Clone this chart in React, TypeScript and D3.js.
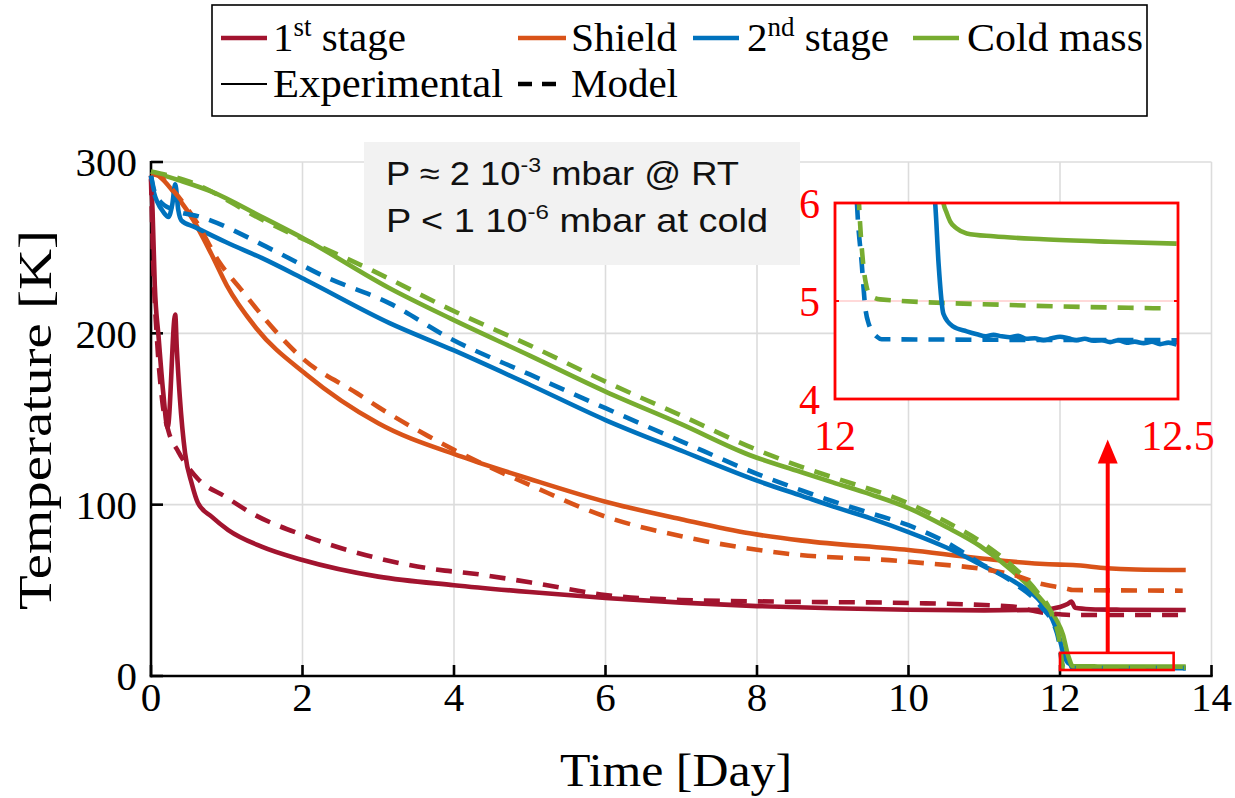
import React from 'react';
import * as d3 from 'd3';

type P = [number, number];

const xTicks = [0, 2, 4, 6, 8, 10, 12, 14];
const yTicks = [0, 100, 200, 300];
const insetYTicks = [4, 5, 6];
const insetXTicks = [12, 12.5];

const stage1Exp: P[] = [
  [0, 292], [0.02, 272], [0.05, 228], [0.1, 198], [0.16, 166], [0.22, 145], [0.32, 211], [0.34, 192],
  [0.38, 163], [0.45, 130], [0.54, 112], [0.62, 101], [0.8, 93], [1.02, 85.2], [1.46, 75.5], [2, 67.7],
  [3, 58], [4, 53], [5, 49], [6, 45.5], [7, 42.8], [8, 40.8], [9, 39.5], [10, 38.7], [11, 38.3],
  [11.74, 38.6], [12.0, 40.3], [12.1, 42], [12.15, 43.4], [12.2, 39.8], [12.4, 39], [12.8, 38.7], [13.66, 38.5],
];
const stage1Mod: P[] = [
  [0, 290], [0.03, 240], [0.08, 196], [0.15, 160], [0.23, 143], [0.36, 131], [0.62, 115], [0.98, 104.7],
  [1.33, 95], [2, 82.3], [3, 68.7], [3.88, 61.5], [4.15, 60.3], [5, 54.7], [6, 47.3], [7, 44.4], [8.3, 43.4],
  [10, 42.6], [11.38, 40.5], [11.74, 37.2], [12.0, 36], [12.17, 35.6], [13.66, 35.6],
];
const shieldExp: P[] = [
  [0, 293], [0.08, 292.5], [0.15, 290], [0.34, 280], [0.56, 266], [0.8, 246], [1.0, 228], [1.39, 203],
  [2.05, 176], [3, 147.5], [4.1, 128], [5, 115], [6, 101.7], [7, 91.5], [7.9, 83.3], [8.6, 79], [10, 73.5],
  [10.94, 68.7], [11.73, 65.5], [12.0, 65], [12.17, 64.8], [12.62, 62.9], [13.0, 62.2], [13.66, 61.9],
];
const shieldMod: P[] = [
  [0, 293], [0.1, 292], [0.3, 283], [0.6, 265], [0.91, 241], [1.2, 225], [1.53, 207], [2.01, 185],
  [2.72, 165], [3.0, 157], [3.66, 140], [4.0, 132], [5.05, 110.5], [6, 93], [7.03, 81.3], [8.35, 71.6],
  [10, 66.7], [11.38, 59], [11.73, 54], [12.09, 51], [12.17, 50.2], [13.62, 49.8],
];
const stage2Exp: P[] = [
  [0, 292], [0.04, 282], [0.08, 277], [0.16, 271], [0.23, 268], [0.28, 275], [0.32, 287], [0.36, 272],
  [0.4, 266], [0.58, 262], [1.0, 253], [1.46, 244], [2.05, 231], [3.15, 206], [4, 190], [5, 170], [6, 149.4],
  [7, 131.5], [8, 114], [8.6, 105], [9, 99], [9.5, 92], [10, 84], [10.5, 75], [11, 64], [11.4, 55],
  [11.75, 43], [11.9, 33], [12.0, 21], [12.05, 12], [12.1, 8], [12.146, 6.0], [12.151, 5.38], [12.158, 4.87],
  [12.172, 4.74], [12.192, 4.69], [12.207, 4.66], [12.22, 4.64], [12.231, 4.655], [12.243, 4.64],
  [12.255, 4.63], [12.267, 4.645], [12.279, 4.615], [12.291, 4.62], [12.304, 4.6], [12.316, 4.62],
  [12.328, 4.635], [12.34, 4.62], [12.352, 4.6], [12.364, 4.615], [12.377, 4.595], [12.389, 4.6],
  [12.401, 4.58], [12.413, 4.6], [12.425, 4.575], [12.437, 4.585], [12.45, 4.57], [12.462, 4.585],
  [12.474, 4.56], [12.486, 4.575], [12.498, 4.555], [13.0, 4.52], [13.66, 4.52],
];
const stage2Mod: P[] = [
  [0, 292], [0.05, 282], [0.12, 277], [0.3, 272], [0.65, 268], [1.61, 248.6], [2.3, 233], [3.15, 217.5],
  [3.95, 197], [5, 176], [6, 156.3], [7, 137], [8, 118], [8.57, 108.6], [9, 102], [9.5, 95], [10, 88],
  [10.5, 78], [10.94, 66], [11.4, 54], [11.74, 41], [11.96, 25], [12.0, 16], [12.02, 9], [12.032, 6.0],
  [12.039, 5.38], [12.044, 4.94], [12.049, 4.77], [12.061, 4.636], [12.068, 4.61], [12.5, 4.6], [13.66, 4.6],
];
const coldExp: P[] = [
  [0, 294.4], [0.36, 289.5], [0.8, 282.7], [1.46, 268], [2.05, 254.5], [3.15, 226.3], [3.95, 208.7],
  [5, 187], [6, 166], [7, 147], [7.9, 129], [8.57, 119.2], [9, 113], [9.5, 106], [10, 98], [10.5, 87],
  [10.94, 76], [11.38, 61], [11.6, 52], [11.82, 41], [11.95, 33], [12.04, 24], [12.1, 13], [12.13, 9],
  [12.158, 6.0], [12.163, 5.895], [12.168, 5.81], [12.177, 5.742], [12.192, 5.69], [12.231, 5.66],
  [12.304, 5.63], [12.4, 5.605], [12.498, 5.585], [13.66, 5.45],
];
const coldMod: P[] = [
  [0, 294.5], [0.51, 288.5], [1.48, 266], [2.94, 236.3], [3.95, 214], [5, 193], [6, 171.8], [7, 152],
  [8, 132], [8.57, 122.3], [9, 116], [10, 100.8], [10.5, 90], [11, 77], [11.4, 63], [11.7, 49], [11.9, 35],
  [12.0, 18], [12.02, 10], [12.035, 6.0], [12.041, 5.384], [12.046, 5.147], [12.051, 5.061], [12.066, 5.017],
  [12.255, 4.959], [12.48, 4.925], [13.66, 4.9],
];

const legendRow1 = ['1', 'Shield', '2', 'Cold mass'];
const annotLines = [
  { pre: 'P \u2248 2 10', sup: '-3', post: ' mbar @ RT', len: 353 },
  { pre: 'P < 1 10', sup: '-6', post: ' mbar at cold', len: 382 },
];

const C = { s1: '#A2142F', sh: '#D95319', s2: '#0072BD', cm: '#77AC30', red: '#FF0000' };

const zoomBox = { x0: 12, x1: 13.5, y0: 3.5, y1: 13.5 };
const arrowAt = { x: 12.63, from: 13.5, to: 138 };

export default function App() {
  const x = d3.scaleLinear().domain([0, 14]).range([151, 1211.5]);
  const y = d3.scaleLinear().domain([0, 300]).range([676, 162]);
  const ix = d3.scaleLinear().domain([12, 12.5]).range([835, 1178]);
  const iy = d3.scaleLinear().domain([4, 6]).range([399, 203]);
  const line = d3.line<P>().x(d => x(d[0])).y(d => y(d[1])).curve(d3.curveMonotoneX);
  const iline = d3.line<P>().x(d => ix(d[0])).y(d => iy(d[1])).curve(d3.curveMonotoneX);

  const serif = '"Liberation Serif", "DejaVu Serif", serif';
  const sans = '"Liberation Sans", Arial, sans-serif';
  const dash = '16 11';
  const lw = 4.6;

  const solids: [P[], string][] = [[stage1Exp, C.s1], [shieldExp, C.sh], [stage2Exp, C.s2], [coldExp, C.cm]];
  const dashes: [P[], string][] = [[stage1Mod, C.s1], [shieldMod, C.sh], [stage2Mod, C.s2], [coldMod, C.cm]];

  const ax = x(arrowAt.x);
  const aTop = y(arrowAt.to);
  const aBot = y(arrowAt.from);

  return (
    <svg width={1235} height={798} style={{ position: 'absolute', left: 0, top: 0, background: '#fff' }}>
      <defs>
        <clipPath id="insetClip">
          <rect x={ix(12)} y={iy(6)} width={ix(12.5) - ix(12)} height={iy(4) - iy(6)} />
        </clipPath>
      </defs>
      <rect x={0} y={0} width={1235} height={798} fill="#fff" />
      {/* grid */}
      {xTicks.map(t => (
        <line key={'gx' + t} x1={x(t)} x2={x(t)} y1={y(0)} y2={y(300)} stroke="#dcdcdc" strokeWidth={1.6} />
      ))}
      {yTicks.map(t => (
        <line key={'gy' + t} x1={x(0)} x2={x(14)} y1={y(t)} y2={y(t)} stroke="#dcdcdc" strokeWidth={1.6} />
      ))}
      {/* axes */}
      <line x1={x(0)} x2={x(0)} y1={y(300) - 1} y2={y(0) + 1.2} stroke="#000" strokeWidth={2.6} />
      <line x1={x(0) - 1.2} x2={x(14) + 1.2} y1={y(0)} y2={y(0)} stroke="#000" strokeWidth={2.6} />
      {yTicks.map(t => (
        <line key={'ty' + t} x1={x(0)} x2={x(0) + 12} y1={y(t)} y2={y(t)} stroke="#000" strokeWidth={2.6} />
      ))}
      {xTicks.map(t => (
        <line key={'tx' + t} x1={x(t)} x2={x(t)} y1={y(0)} y2={y(0) - 11} stroke="#000" strokeWidth={2.6} />
      ))}
      {yTicks.map(t => (
        <text key={'ly' + t} x={137} y={y(t)} dy="0.35em" textAnchor="end" fontFamily={serif} fontSize={41}>{t}</text>
      ))}
      {xTicks.map(t => (
        <text key={'lx' + t} x={x(t)} y={711} textAnchor="middle" fontFamily={serif} fontSize={41}>{t}</text>
      ))}
      <text x={676} y={786} textAnchor="middle" fontFamily={serif} fontSize={46} textLength={232} lengthAdjust="spacingAndGlyphs">Time [Day]</text>
      <text transform="translate(51,420) rotate(-90)" textAnchor="middle" fontFamily={serif} fontSize={46} textLength={380} lengthAdjust="spacingAndGlyphs">Temperature [K]</text>

      {/* data */}
      {solids.map(([d, c], i) => (
        <path key={'s' + i} d={line(d) || ''} fill="none" stroke={c} strokeWidth={lw} strokeLinejoin="round" />
      ))}
      {dashes.map(([d, c], i) => (
        <path key={'d' + i} d={line(d) || ''} fill="none" stroke={c} strokeWidth={lw} strokeDasharray={dash} />
      ))}

      {/* zoom box and arrow */}
      <rect x={x(zoomBox.x0)} y={y(zoomBox.y1)} width={x(zoomBox.x1) - x(zoomBox.x0)} height={y(zoomBox.y0) - y(zoomBox.y1)}
        fill="none" stroke={C.red} strokeWidth={2.6} />
      <line x1={ax} x2={ax} y1={aBot} y2={aTop + 20} stroke={C.red} strokeWidth={4} />
      <path d={`M${ax},${aTop} L${ax - 10},${aTop + 24} L${ax + 10},${aTop + 24} Z`} fill={C.red} />

      {/* annotation */}
      <rect x={364} y={142} width={436} height={123} fill="#f2f2f2" />
      {annotLines.map((l, i) => (
        <text key={'an' + i} x={386} y={185 + i * 47} fontFamily={sans} fontSize={33} fill="#111"
          textLength={l.len} lengthAdjust="spacingAndGlyphs">
          {l.pre}
          <tspan fontSize={21} dy={-13}>{l.sup}</tspan>
          <tspan dy={13}>{l.post}</tspan>
        </text>
      ))}

      {/* inset */}
      <rect x={ix(12)} y={iy(6)} width={ix(12.5) - ix(12)} height={iy(4) - iy(6)} fill="#fff" />
      <line x1={ix(12)} x2={ix(12.5)} y1={iy(5)} y2={iy(5)} stroke="#ff0000" strokeOpacity={0.15} strokeWidth={2} />
      <line x1={ix(12)} x2={ix(12) + 4} y1={iy(5)} y2={iy(5)} stroke={C.red} strokeWidth={2} />
      <line x1={ix(12.5) - 4} x2={ix(12.5)} y1={iy(5)} y2={iy(5)} stroke={C.red} strokeWidth={2} />
      <g clipPath="url(#insetClip)">
        {dashes.filter((_, i) => i >= 2).map(([d, c], i) => (
          <path key={'id' + i} d={iline(d.filter(p => p[0] >= 11.9 && p[0] <= 12.6)) || ''} fill="none" stroke={c} strokeWidth={lw} strokeDasharray={dash} />
        ))}
        {solids.filter((_, i) => i >= 2).map(([d, c], i) => (
          <path key={'is' + i} d={iline(d.filter(p => p[0] >= 11.9 && p[0] <= 12.6)) || ''} fill="none" stroke={c} strokeWidth={lw} strokeLinejoin="round" />
        ))}
      </g>
      <rect x={ix(12)} y={iy(6)} width={ix(12.5) - ix(12)} height={iy(4) - iy(6)} fill="none" stroke={C.red} strokeWidth={2.8} />
      {insetYTicks.map(t => (
        <text key={'iy' + t} x={820} y={iy(t)} dy="0.35em" textAnchor="end" fontFamily={serif} fontSize={42} fill={C.red}>{t}</text>
      ))}
      {insetXTicks.map(t => (
        <text key={'ix' + t} x={ix(t)} y={450} textAnchor="middle" fontFamily={serif} fontSize={42} fill={C.red}>{t}</text>
      ))}

      {/* legend */}
      <rect x={212} y={5} width={935} height={111} fill="#fff" stroke="#000" strokeWidth={1.6} />
      <g fontFamily={serif} fontSize={41}>
        <line x1={221} x2={267} y1={38} y2={38} stroke={C.s1} strokeWidth={4.5} />
        <text x={273} y={51}>{legendRow1[0]}<tspan fontSize={27} dy={-15}>st</tspan><tspan dy={15}> stage</tspan></text>
        <line x1={518} x2={566} y1={38} y2={38} stroke={C.sh} strokeWidth={4.5} />
        <text x={571} y={51} textLength={106} lengthAdjust="spacingAndGlyphs">{legendRow1[1]}</text>
        <line x1={693} x2={739} y1={38} y2={38} stroke={C.s2} strokeWidth={4.5} />
        <text x={747} y={51}>{legendRow1[2]}<tspan fontSize={27} dy={-15}>nd</tspan><tspan dy={15}> stage</tspan></text>
        <line x1={913} x2={959} y1={38} y2={38} stroke={C.cm} strokeWidth={4.5} />
        <text x={967} y={51} textLength={176} lengthAdjust="spacingAndGlyphs">{legendRow1[3]}</text>
        <line x1={221} x2={267} y1={84} y2={84} stroke="#000" strokeWidth={2} />
        <text x={273} y={97} textLength={230} lengthAdjust="spacingAndGlyphs">Experimental</text>
        <line x1={518} x2={563} y1={84} y2={84} stroke="#000" strokeWidth={4.5} strokeDasharray="14 10" />
        <text x={571} y={97} textLength={107} lengthAdjust="spacingAndGlyphs">Model</text>
      </g>
    </svg>
  );
}
